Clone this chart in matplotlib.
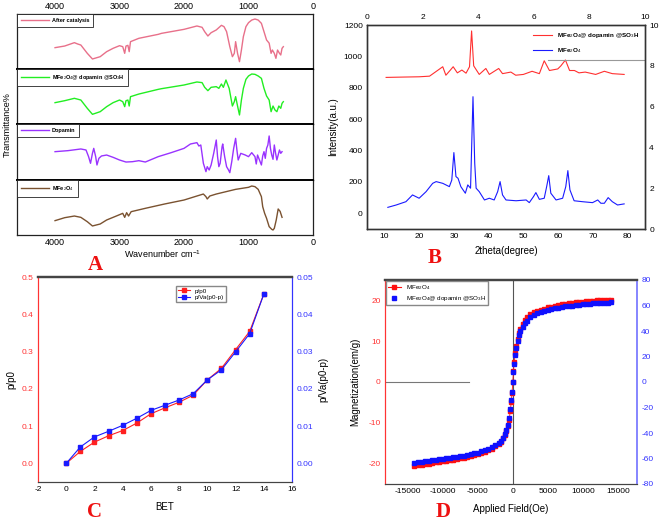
import numpy as np
import matplotlib
matplotlib.use("Agg")
import matplotlib.pyplot as plt
from matplotlib.lines import Line2D

plt.rcParams['font.family'] = ['Liberation Sans', 'DejaVu Sans']
plt.rcParams['mathtext.fontset'] = 'custom'
plt.rcParams['mathtext.rm'] = 'Liberation Sans'
plt.rcParams['mathtext.bf'] = 'Liberation Sans:bold'
plt.rcParams['axes.unicode_minus'] = False

# ---------------- A: FTIR (wavenumber, relative transmittance) ----------------
ftir_labels = ['After catalysis', 'MFe$_2$O$_4$@ dopamin @SO$_3$H', 'Dopamin', 'MFe$_2$O$_4$']
ftir_colors = ['#e8708a', '#22ee22', '#9933ff', '#7a5230']

after_wn = [4000, 3850, 3700, 3650, 3600, 3500, 3420, 3300, 3200, 3100, 3000, 2950, 2920, 2900, 2870, 2850,
            2830, 2700, 2400, 2350, 2000, 1800, 1720, 1680, 1630, 1580, 1500, 1420, 1380, 1340, 1290, 1250,
            1220, 1200, 1170, 1140, 1110, 1080, 1040, 1000, 950, 900, 850, 800, 760, 720, 680, 650, 630,
            600, 575, 550, 520, 500, 480, 460]
after_t = [38.8, 41.8, 47.9, 45.5, 43.6, 28.5, 18.2, 22.4, 31.5, 37.6, 42.4, 40.6, 28.5, 41.8, 43, 31.5,
           49.7, 55.8, 63, 64.8, 72.1, 78.2, 75.8, 67.9, 60, 66, 71, 79.4, 77, 67.9, 40.6, 22.4,
           28.5, 49.7, 28.5, 13.3, 34.5, 58.8, 77, 84.2, 89, 90.9, 89, 83, 67.9, 52.7, 47, 28.5, 34.5,
           28.5, 19.4, 34.5, 28.5, 25.5, 37.6, 40.6]

cat_wn = [4000, 3850, 3700, 3600, 3500, 3420, 3300, 3200, 3100, 3000, 2950, 2920, 2900, 2870, 2850, 2830,
          2700, 2400, 2350, 2000, 1800, 1720, 1680, 1630, 1580, 1500, 1460, 1420, 1390, 1350, 1300, 1250,
          1220, 1200, 1170, 1140, 1110, 1080, 1040, 1000, 950, 900, 850, 800, 760, 720, 680, 650, 620,
          590, 560, 530, 500, 480, 460]
cat_t = [38.8, 42.4, 46.7, 43.6, 28.5, 17.6, 22.4, 31.5, 38.8, 43.6, 40.6, 31.5, 42.4, 43.6, 32.7, 49.7,
         54.5, 63, 64.2, 70.9, 76.4, 75.2, 66.7, 60.6, 66.7, 67.9, 64.8, 72.7, 66.7, 80, 64.8, 32.7,
         40.6, 49.7, 32.7, 16.4, 43.6, 64.8, 81.2, 87.3, 90.9, 90.3, 87.3, 83, 64.8, 50.9, 43.6, 22.4, 32.7,
         25.5, 22.4, 32.7, 28.5, 37.6, 40.6]

dop_wn = [4000, 3800, 3600, 3520, 3480, 3450, 3420, 3400, 3370, 3350, 3320, 3280, 3200, 3100, 3000, 2900,
          2800, 2700, 2600, 2500, 2400, 2200, 2000, 1900, 1850, 1800, 1770, 1740, 1700, 1660, 1640, 1610,
          1580, 1540, 1500, 1480, 1460, 1440, 1410, 1400, 1370, 1340, 1310, 1290, 1260, 1230, 1200, 1180,
          1160, 1120, 1050, 1000, 950, 900, 880, 860, 830, 800, 780, 760, 740, 720, 700, 680, 660, 640,
          620, 600, 580, 560, 540, 520, 500, 480]
dop_t = [50.6, 52.4, 55.4, 53.6, 41.7, 29.8, 47.6, 56.5, 41.7, 26.8, 38.7, 42.9, 44.6, 40.5, 35.7, 32.1,
         32.7, 34.5, 32.1, 36.9, 41.7, 48.8, 56.5, 64.3, 65.5, 66.7, 60.7, 62.5, 29.8, 14.9, 23.8, 17.9,
         26.8, 47.6, 71.4, 41.7, 23.8, 29.8, 59.5, 64.3, 41.7, 23.8, 17.9, 13.1, 32.7, 56.5, 74.4, 53.6,
         35.7, 47.6, 44.6, 41.7, 48.8, 41.7, 28.6, 44.6, 35.7, 26.8, 42.9, 50.6, 38.7, 56.5, 62.5, 78.6,
         56.5, 44.6, 36.9, 62.5, 47.6, 35.7, 44.6, 53.6, 47.6, 50.6]

fe_wn = [4000, 3850, 3700, 3600, 3500, 3420, 3300, 3200, 3050, 2950, 2920, 2890, 2860, 2820, 2600, 2300,
         2000, 1800, 1700, 1660, 1640, 1600, 1500, 1200, 1000, 950, 900, 850, 800, 780, 750, 720, 680,
         640, 620, 600, 570, 540, 510, 480]
fe_t = [26.1, 31.5, 34.5, 32.1, 24.2, 16.4, 20, 27.3, 34.5, 39.4, 32.1, 40.6, 34.5, 42.4, 48.5, 56.4,
        63.6, 70.9, 74.5, 69.7, 65.5, 70.9, 74.5, 83, 86.7, 89.1, 87.9, 83, 69.7, 51.5, 39.4, 30.3, 15.2,
        10.3, 9.1, 12.1, 27.3, 47.3, 43, 32.1]

ftir_wn = [after_wn, cat_wn, dop_wn, fe_wn]
ftir_t = [after_t, cat_t, dop_t, fe_t]
wn_ticks = [4000, 3000, 2000, 1000, 0]

# ---------------- B: XRD ----------------
xrd_red_2t = [10.5, 15, 20, 23, 26.8, 27.7, 29, 29.8, 31, 32.3, 33.5, 34.5, 35.1, 35.7, 37.3, 39.2, 40.2,
              42.9, 44, 46.4, 47.8, 50, 52.5, 54.6, 56, 57.5, 59.9, 60.8, 62.1, 63.3, 64.7, 66, 67.8, 70.8,
              73.3, 75.6, 79]
xrd_red_i = [866, 868, 870, 874, 934, 880, 913, 934, 895, 913, 893, 934, 1162, 940, 885, 923, 885,
             923, 890, 900, 880, 885, 905, 890, 972, 910, 920, 940, 977, 910, 910, 895, 900, 885,
             905, 890, 885]

xrd_blue_2t = [11, 13.4, 16.2, 18.1, 20, 22, 23.9, 24.9, 26.8, 28.7, 29.4, 30, 30.6, 31.2, 32, 33.3, 34,
               34.8, 35.5, 36, 36.4, 37.3, 38.8, 40.2, 41.6, 42.6, 43.3, 44, 45, 47.9, 50.8, 51.7, 52.9,
               53.6, 54.6, 56, 56.7, 57.3, 57.9, 59.4, 61.3, 62.2, 62.8, 63.4, 64.6, 67, 69.9, 71.4, 72.3,
               73.3, 74.4, 75.6, 77.1, 79]
xrd_blue_i = [38, 53, 74, 117, 96, 138, 191, 202, 191, 170, 212, 387, 234, 223, 170, 128, 181,
              160, 743, 319, 160, 138, 85, 96, 85, 138, 202, 117, 85, 80, 85, 68, 106,
              132, 89, 96, 170, 240, 128, 85, 96, 170, 272, 149, 80, 74, 68, 85, 64,
              64, 100, 74, 53, 60]

# ---------------- C: BET ----------------
bet_x = list(range(15))
bet_pp0 = [0, 0.032, 0.057, 0.074, 0.088, 0.108, 0.133, 0.149, 0.164, 0.183, 0.224, 0.255, 0.305, 0.354, 0.454]
bet_pva = [0, 0.0044, 0.0071, 0.0086, 0.0102, 0.0121, 0.0142, 0.0156, 0.0170, 0.0187, 0.0224, 0.0251,
           0.0299, 0.0348, 0.0454]

# ---------------- D: VSM ----------------
vsm_h = [-14000, -13500, -13000, -12500, -12000, -11500, -11000, -10500, -10000, -9500, -9000, -8500,
         -8000, -7500, -7000, -6500, -6000, -5500, -5000, -4500, -4000, -3500, -3000, -2500, -2000,
         -1700, -1400, -1100, -900, -700, -500, -350, -200, -100, 0, 100, 200, 350, 500, 700, 900, 1100,
         1400, 1700, 2000, 2500, 3000, 3500, 4000, 4500, 5000, 5500, 6000, 6500, 7000, 7500, 8000, 8500,
         9000, 9500, 10000, 10500, 11000, 11500, 12000, 12500, 13000, 13500, 14000]
vsm_red = [-20.5, -20.4, -20.3, -20.1, -20.0, -19.9, -19.7, -19.6, -19.4, -19.3, -19.2, -19.0,
           -18.9, -18.7, -18.6, -18.4, -18.2, -18.0, -17.7, -17.4, -17.1, -16.7, -16.3, -15.8, -15.1,
           -14.6, -13.8, -12.9, -12.0, -10.8, -9.2, -7.0, -4.8, -2.6, 0.0, 2.6, 4.8, 7.0, 8.8, 10.6, 12.0, 13.1,
           14.3, 15.2, 15.9, 16.6, 17.1, 17.4, 17.7, 18.0, 18.3, 18.5, 18.7, 18.9, 19.0, 19.2, 19.3, 19.4,
           19.5, 19.6, 19.7, 19.8, 19.9, 19.9, 20.0, 20.1, 20.1, 20.2, 20.2]
vsm_blue = [-63.4, -63.0, -62.6, -62.2, -61.8, -61.4, -61.0, -60.7, -60.3, -59.9, -59.5, -59.1,
            -58.7, -58.2, -57.7, -57.2, -56.6, -56.0, -55.3, -54.4, -53.4, -52.3, -51.0, -49.5, -47.6,
            -46.0, -43.6, -40.5, -37.5, -33.5, -28.5, -21.5, -14.0, -7.5, 0.0, 7.5, 14.0, 21.5, 27.0, 32.5,
            36.5, 40.0, 43.5, 46.0, 48.0, 50.8, 52.9, 54.0, 55.0, 55.8, 56.6, 57.3, 57.9, 58.4, 58.9, 59.3,
            59.7, 60.0, 60.3, 60.6, 61.0, 61.2, 61.4, 61.6, 61.8, 62.0, 62.2, 62.3, 62.4]

W, H = 661, 523
fig = plt.figure(figsize=(W / 100, H / 100), dpi=100)


def box(x0, y0, x1, y1):
    # pixel box (top-left origin) -> figure fraction rect
    return [x0 / W, 1 - y1 / H, (x1 - x0) / W, (y1 - y0) / H]


def letter(x, y, s):
    fig.text(x / W, 1 - y / H, s, color='#ee1111', fontsize=15, fontweight='bold',
             family='Liberation Serif', ha='center', va='center')


# ---------- panel A ----------
strip_edges = [14, 69, 124, 180, 235]
for i in range(4):
    ax = fig.add_axes(box(17, strip_edges[i], 313, strip_edges[i + 1]))
    ax.plot(ftir_wn[i], ftir_t[i], color=ftir_colors[i], lw=1.0, label=ftir_labels[i])
    ax.set_xlim(4590, 0)
    ax.set_ylim(0, 100)
    ax.set_yticks([])
    ax.set_xticks(wn_ticks)
    ax.tick_params(axis='x', labelsize=6.5, length=0, pad=2,
                   labeltop=(i == 0), labelbottom=(i == 3), top=False, bottom=False)
    for s in ax.spines.values():
        s.set_color('#222222')
        s.set_linewidth(0.9)
    if i > 0:
        ax.spines['top'].set_linewidth(1.4)
        ax.spines['top'].set_color('black')
    leg = ax.legend(loc='upper left', borderaxespad=0, handlelength=5,
                    frameon=True, fancybox=False, edgecolor='#222222', framealpha=1,
                    borderpad=0.7, handletextpad=0.6, prop={'size': 4, 'weight': 'bold'})
    leg.get_frame().set_linewidth(0.6)
fig.text(7 / W, 1 - 125 / H, 'Transmittance%', rotation=90, ha='center', va='center', fontsize=6.5)
fig.text(163 / W, 1 - 254 / H, 'Wavenumber cm$^{-1}$', ha='center', va='center', fontsize=6.5)
letter(95, 265, 'A')

# ---------- panel B ----------
axb = fig.add_axes(box(367, 25, 645, 229))
axb.plot(xrd_red_2t, xrd_red_i, color='#ff3030', lw=0.8, label='MFe$_2$O$_4$@ dopamin @SO$_3$H')
axb.plot(xrd_blue_2t, xrd_blue_i, color='#1a1aff', lw=0.8, label='MFe$_2$O$_4$')
axb.set_xlim(5, 85)
axb.set_ylim(-100, 1200)
axb.set_xticks(range(10, 81, 10))
axb.set_yticks(range(0, 1201, 200))
axb.tick_params(labelsize=6, length=0, pad=3)
axb.plot([57, 84.7], [975, 975], color='#999999', lw=0.8)
axb.legend(loc='upper right', frameon=False, handlelength=3,
           prop={'size': 4.5, 'weight': 'bold'}, borderaxespad=0.6, labelspacing=1.0)
axb.set_ylabel('Intensity(a.u.)', fontsize=7, labelpad=4)
axb.set_xlabel('2theta(degree)', fontsize=7, labelpad=4)
axbr = axb.twinx()
axbr.set_ylim(0, 10)
axbr.set_yticks(range(0, 11, 2))
axbr.tick_params(labelsize=6, length=0, pad=3)
axbt = axb.twiny()
axbt.set_xlim(0, 10)
axbt.set_xticks(range(0, 11, 2))
axbt.tick_params(labelsize=6, length=0, pad=3)
for a in (axb, axbr, axbt):
    for s in a.spines.values():
        s.set_color('#333333')
        s.set_linewidth(0.9)
letter(435, 258, 'B')

# ---------- panel C ----------
axc = fig.add_axes(box(38, 277, 292, 482))
axc.plot(bet_x, bet_pp0, color='#ff2020', marker='s', ms=3, lw=0.8, label='p/p0')
axc.set_xlim(-2, 16)
axc.set_ylim(-0.05, 0.5)
axc.set_xticks(range(-2, 17, 2))
axc.set_yticks(np.arange(0, 0.51, 0.1))
axc.set_yticklabels(['0.0', '0.1', '0.2', '0.3', '0.4', '0.5'])
axc.tick_params(labelsize=6, length=0, pad=3)
axc.tick_params(axis='y', labelcolor='#ff3333')
axc.set_ylabel('p/p0', fontsize=7, labelpad=4)
axc.set_xlabel('BET', fontsize=7, labelpad=6)
axcr = axc.twinx()
axcr.plot(bet_x, bet_pva, color='#1a1aff', marker='s', ms=3, lw=0.8, label='p/Va(p0-p)')
axcr.set_ylim(-0.005, 0.05)
axcr.set_yticks(np.arange(0, 0.051, 0.01))
axcr.set_yticklabels(['0.00', '0.01', '0.02', '0.03', '0.04', '0.05'])
axcr.tick_params(labelsize=6, length=0, pad=3, labelcolor='#3333ff')
axcr.set_ylabel('p/Va(p0-p)', fontsize=7, labelpad=4)
for a in (axc, axcr):
    a.spines['top'].set_color('#444444')
    a.spines['top'].set_linewidth(1.6)
    a.spines['bottom'].set_color('#444444')
    a.spines['left'].set_color('#ff3333')
    a.spines['right'].set_color('#3333ff')
handles = [Line2D([], [], color='#ff2020', marker='s', ms=3, lw=0.8),
           Line2D([], [], color='#1a1aff', marker='s', ms=3, lw=0.8)]
axcr.legend(handles, ['p/p0', 'p/Va(p0-p)'], loc='upper left', bbox_to_anchor=(0.53, 0.97),
            fontsize=4.5, fancybox=False, edgecolor='#888888', framealpha=1, handlelength=2,
            borderpad=0.3, labelspacing=0.2)
letter(95, 512, 'C')

# ---------- panel D ----------
axd = fig.add_axes(box(385, 280, 637, 484))
axd.axvline(0, color='#555555', lw=0.8)
axd.plot([-18200, -6300], [0, 0], color='#777777', lw=0.8)
axd.plot(vsm_h, vsm_red, color='#ff1010', marker='s', ms=3, lw=0.6)
axd.set_xlim(-18200, 17700)
axd.set_ylim(-25, 25)
axd.set_xticks(range(-15000, 15001, 5000))
axd.set_yticks(range(-20, 21, 10))
axd.tick_params(labelsize=6, length=0, pad=3)
axd.tick_params(axis='y', labelcolor='#ff3333')
axd.set_ylabel('Magnetization(em/g)', fontsize=7, labelpad=6)
axd.set_xlabel('Applied Field(Oe)', fontsize=7, labelpad=6)
axdr = axd.twinx()
axdr.plot(vsm_h, vsm_blue, color='#1010ff', marker='s', ms=3, lw=0)
axdr.set_ylim(-80, 80)
axdr.set_yticks(range(-80, 81, 20))
axdr.tick_params(labelsize=6, length=0, pad=3, labelcolor='#3333ff')
for a in (axd, axdr):
    a.spines['top'].set_color('#444444')
    a.spines['top'].set_linewidth(1.6)
    a.spines['bottom'].set_color('#444444')
    a.spines['left'].set_color('#ff3333')
    a.spines['right'].set_color('#8888ff')
    a.spines['right'].set_linewidth(1.4)
handles = [Line2D([], [], color='#ff1010', marker='s', ms=3, lw=0.8),
           Line2D([], [], color='#1010ff', marker='s', ms=3, lw=0)]
axdr.legend(handles, ['MFe$_2$O$_4$', 'MFe$_2$O$_4$@ dopamin @SO$_3$H'], loc='upper left',
            borderaxespad=0.2, fontsize=4.5, fancybox=False, edgecolor='#888888', framealpha=1,
            handlelength=2, borderpad=0.3, labelspacing=0.3)
letter(443, 512, 'D')

fig.savefig('out.png', dpi=100)
